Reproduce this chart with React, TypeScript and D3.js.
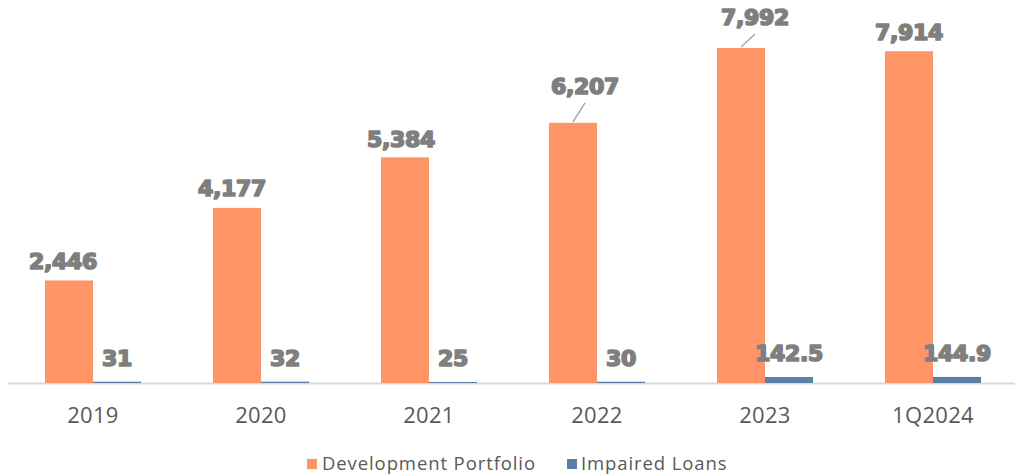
import React from "react";
import * as d3 from "d3";

const categories = ["2019", "2020", "2021", "2022", "2023", "1Q2024"];
const developmentPortfolio = [2446, 4177, 5384, 6207, 7992, 7914];
const impairedLoans = [31, 32, 25, 30, 142.5, 144.9];
const devLabels = ["2,446", "4,177", "5,384", "6,207", "7,992", "7,914"];
const impLabels = ["31", "32", "25", "30", "142.5", "144.9"];
const seriesNames = ["Development Portfolio", "Impaired Loans"];

// label nudges (style/annotation only)
const devLabelNudge: [number, number][] = [
  [-6, 3], [-5, 2], [-4, 4], [12, -15], [14, -9], [0, 3],
];
const leaderLines = [false, false, false, true, true, false];

const W = 1015;
const H = 476;
const ORANGE = "#FF9466";
const BLUE = "#5B80A8";
const LABEL = "#7F7F7F";
const TEXT = "#595959";

export default function App() {
  const x0 = d3.scaleBand<string>().domain(categories).range([9, 1017]).paddingInner(0).paddingOuter(0);
  const groupW = 96;
  const x1 = d3.scaleBand<string>().domain(["dev", "imp"]).range([0, groupW]).padding(0);
  const y = d3.scaleLinear().domain([0, 9000]).range([383, 5.75]);
  const base = y(0);

  const labelFont = "'DejaVu Sans', sans-serif";

  return (
    <svg width={W} height={H} style={{ position: "absolute", left: 0, top: 0, background: "#fff" }}>
      <rect width={W} height={H} fill="#fff" />
      <line x1={8} x2={1015} y1={383.5} y2={383.5} stroke="#D9D9D9" strokeWidth={2} />
      {categories.map((c, i) => {
        const gx = (x0(c) as number) + (x0.bandwidth() - groupW) / 2;
        const dx = gx + (x1("dev") as number);
        const ix = gx + (x1("imp") as number);
        const bw = x1.bandwidth();
        const dTop = y(developmentPortfolio[i]);
        const iTop = y(impairedLoans[i]);
        const [nx, ny] = devLabelNudge[i];
        const lx = dx + bw / 2 + nx;
        const ly = dTop - 14 + ny;
        return (
          <g key={c}>
            <rect x={dx} y={dTop} width={bw} height={base - dTop} fill={ORANGE} />
            <rect x={ix} y={iTop} width={bw} height={Math.max(base - iTop, 1)} fill={BLUE} />
            {leaderLines[i] && (
              <line x1={dx + bw / 2} y1={dTop - 1} x2={lx} y2={ly + 9} stroke="#A6A6A6" strokeWidth={1.5} />
            )}
            <text x={lx} y={ly} textAnchor="middle" fontFamily={labelFont} fontWeight={700} fontSize={22}
              fill={LABEL} stroke={LABEL} strokeWidth={1.7} strokeLinejoin="round" letterSpacing={-0.3}>
              {devLabels[i]}
            </text>
            <text x={ix + bw / 2} y={iTop - 16} textAnchor="middle" fontFamily={labelFont} fontWeight={700} fontSize={22}
              fill={LABEL} stroke={LABEL} strokeWidth={1.7} strokeLinejoin="round" letterSpacing={-0.3}>
              {impLabels[i]}
            </text>
            <text x={(x0(c) as number) + x0.bandwidth() / 2} y={423} textAnchor="middle"
              fontFamily="'Open Sans', sans-serif" fontSize={22} fill={TEXT} letterSpacing={0.3}>
              {c}
            </text>
          </g>
        );
      })}
      <g>
        <rect x={307} y={459} width={10} height={10} fill={ORANGE} />
        <text x={322} y={470} fontFamily="'Open Sans', sans-serif" fontSize={18.5} letterSpacing={0.9} fill={TEXT}>{seriesNames[0]}</text>
        <rect x={567} y={459} width={10} height={10} fill={BLUE} />
        <text x={581} y={470} fontFamily="'Open Sans', sans-serif" fontSize={18.5} letterSpacing={0.9} fill={TEXT}>{seriesNames[1]}</text>
      </g>
    </svg>
  );
}
